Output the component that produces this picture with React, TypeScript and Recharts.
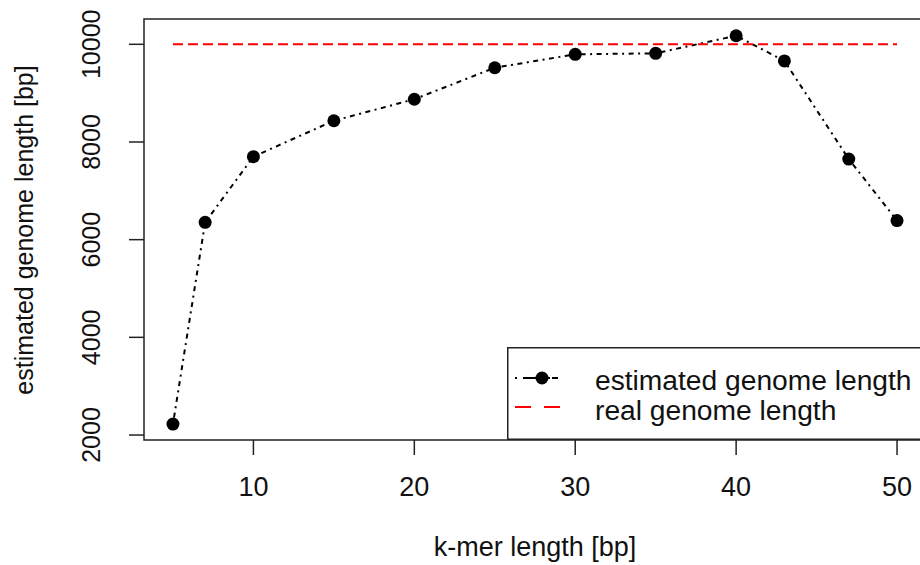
import React from 'react';
import {
  LineChart,
  Line,
  XAxis,
  YAxis,
  ReferenceArea,
  ReferenceLine,
  Legend,
} from 'recharts';

// k-mer lengths tested and the genome length estimated for each
const kmerLengths = [5, 7, 10, 15, 20, 25, 30, 35, 40, 43, 47, 50];
const estimatedLengths = [2225, 6355, 7700, 8435, 8875, 9520, 9795, 9815, 10175, 9660, 7650, 6390];
const realGenomeLength = 10000;

const xTicks = [10, 20, 30, 40, 50];
const yTicks = [2000, 4000, 6000, 8000, 10000];
const legendLabels = ['estimated genome length', 'real genome length'];

const X_DOMAIN: [number, number] = [3.2, 51.8];
const Y_DOMAIN: [number, number] = [1898, 10518];

const FONT = '"Liberation Sans", Arial, Helvetica, sans-serif';
const DOT_DASH = '2 4.5 5 4.5';

const data = kmerLengths.map((k, i) => ({ k, est: estimatedLengths[i] }));

function XTick(props: any) {
  const { x, y, payload } = props;
  return (
    <text x={x} y={y + 39} textAnchor="middle" fontSize={27} fontFamily={FONT} fill="#111">
      {payload.value}
    </text>
  );
}

function YTick(props: any) {
  const { x, y, payload } = props;
  return (
    <text
      transform={`translate(${x - 27}, ${y}) rotate(-90)`}
      textAnchor="middle"
      fontSize={25}
      fontFamily={FONT}
      fill="#111"
    >
      {payload.value}
    </text>
  );
}

function Dot(props: any) {
  const { cx, cy } = props;
  if (cx == null || cy == null) return null;
  return <circle cx={cx} cy={cy} r={6.5} fill="#000" />;
}

function LegendBox() {
  return (
    <svg width={419} height={93} style={{ display: 'block' }}>
      <rect x={0.75} y={0.75} width={417.5} height={91.5} fill="#fff" stroke="#222" strokeWidth={1.5} />
      <line x1={8} x2={53} y1={31} y2={31} stroke="#000" strokeWidth={2} strokeDasharray="2 6 19 6 2" />
      <circle cx={35} cy={31} r={6.5} fill="#000" />
      <line x1={8} x2={53} y1={60} y2={60} stroke="#ff0000" strokeWidth={2} strokeDasharray="16 13" />
      <text x={88} y={43} fontSize={28.2} fontFamily={FONT} fill="#111">{legendLabels[0]}</text>
      <text x={88} y={73} fontSize={28.2} fontFamily={FONT} fill="#111">{legendLabels[1]}</text>
    </svg>
  );
}

export default function App() {
  return (
    <div style={{ position: 'fixed', left: 0, top: 0, width: 920, height: 565, overflow: 'hidden', background: '#fff' }}>
      <LineChart
        width={940}
        height={565}
        data={data}
        margin={{ top: 19, right: 14, left: 0, bottom: 0 }}
      >
        <XAxis
          dataKey="k"
          type="number"
          domain={X_DOMAIN}
          ticks={xTicks}
          allowDataOverflow
          height={125}
          axisLine={false}
          tickSize={15}
          tickLine={{ stroke: '#222', strokeWidth: 1.5 }}
          tick={<XTick />}
          label={{
            content: () => (
              <text x={535} y={556} textAnchor="middle" fontSize={27} fontFamily={FONT} fill="#111">
                k-mer length [bp]
              </text>
            ),
          }}
        />
        <YAxis
          type="number"
          domain={Y_DOMAIN}
          ticks={yTicks}
          allowDataOverflow
          width={144}
          axisLine={false}
          tickSize={15}
          tickLine={{ stroke: '#222', strokeWidth: 1.5 }}
          tick={<YTick />}
          label={{
            content: () => (
              <text
                transform="translate(33, 230) rotate(-90)"
                textAnchor="middle"
                fontSize={25}
                fontFamily={FONT}
                fill="#111"
              >
                estimated genome length [bp]
              </text>
            ),
          }}
        />
        <ReferenceArea
          x1={X_DOMAIN[0]}
          x2={X_DOMAIN[1]}
          y1={Y_DOMAIN[0]}
          y2={Y_DOMAIN[1]}
          fill="none"
          stroke="#222"
          strokeWidth={1.5}
          ifOverflow="visible"
        />
        <Line
          dataKey="est"
          stroke="#000"
          strokeWidth={2}
          strokeDasharray={DOT_DASH}
          dot={<Dot />}
          activeDot={false}
          isAnimationActive={false}
        />
        <ReferenceLine
          segment={[
            { x: kmerLengths[0], y: realGenomeLength },
            { x: kmerLengths[kmerLengths.length - 1], y: realGenomeLength },
          ]}
          stroke="#ff0000"
          strokeWidth={2}
          strokeDasharray="10 5"
          ifOverflow="visible"
        />
        <Legend
          layout="vertical"
          align="center"
          verticalAlign="middle"
          wrapperStyle={{ left: 507, top: 347, width: 419, height: 93 }}
          content={() => <LegendBox />}
        />
      </LineChart>
    </div>
  );
}
